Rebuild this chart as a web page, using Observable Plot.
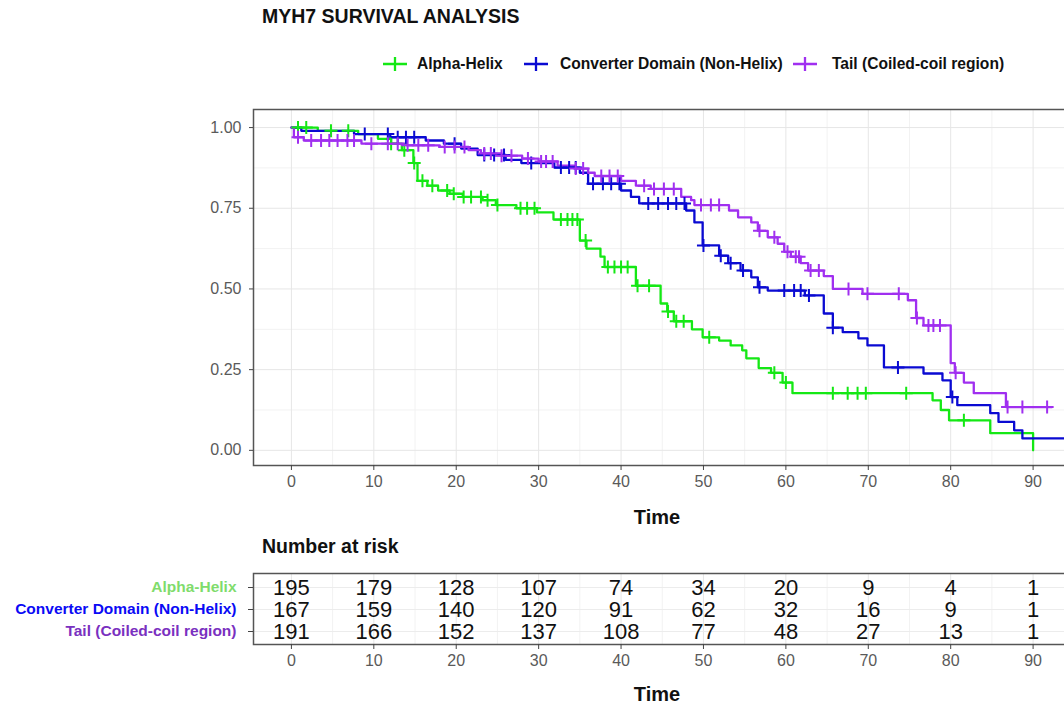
<!DOCTYPE html>
<html><head><meta charset="utf-8">
<script src="https://cdn.jsdelivr.net/npm/d3@7"></script>
<script src="https://cdn.jsdelivr.net/npm/@observablehq/plot@0.6"></script>
<style>
html,body{margin:0;padding:0;background:#fff;overflow:hidden;width:1064px;height:705px;}
#root{position:relative;width:1064px;height:705px;overflow:hidden;font-family:"Liberation Sans",Arial,sans-serif;}
#root svg{max-width:none !important;}
.abs{position:absolute;white-space:nowrap;line-height:1;}
</style></head><body><div id="root"></div>
<script>
const groups = ["Alpha-Helix", "Converter Domain (Non-Helix)", "Tail (Coiled-coil region)"];
const lineColors = ["#14e814", "#0a0ad2", "#a02ff0"];
const labelColors = ["#7fdc6c", "#0a0af5", "#7a30c0"];

const alphaTime = [0, 3.2, 8.1, 10.5, 12.1, 13.4, 14.8, 15.3, 16.5, 17.8, 19.2, 20.8, 23.2, 24.8, 27.3, 29.8, 31.8, 35.0, 35.8, 37.5, 38.0, 41.8, 44.8, 45.6, 46.4, 48.6, 49.9, 51.9, 53.3, 54.7, 55.2, 56.7, 58.2, 59.6, 60.8, 77.8, 78.8, 79.8, 84.8, 90.0];
const alphaSurv = [1.0, 0.99, 0.98, 0.965, 0.95, 0.93, 0.89, 0.835, 0.82, 0.805, 0.795, 0.785, 0.775, 0.76, 0.75, 0.737, 0.715, 0.65, 0.625, 0.60, 0.568, 0.51, 0.455, 0.43, 0.40, 0.375, 0.35, 0.34, 0.325, 0.31, 0.285, 0.255, 0.24, 0.21, 0.177, 0.155, 0.125, 0.093, 0.053, 0.0];
const alphaCensor = [0.8, 1.8, 4.8, 6.9, 12.1, 13.7, 14.9, 15.9, 17.1, 18.9, 19.7, 20.9, 21.8, 23.0, 23.8, 25.0, 27.8, 28.6, 29.5, 32.7, 33.5, 34.1, 34.7, 35.7, 38.4, 39.2, 40.0, 40.8, 42.0, 43.4, 45.7, 46.7, 47.6, 50.7, 58.6, 60.0, 65.7, 67.5, 68.7, 69.7, 74.6, 81.6];

const convTime = [0, 1.2, 7.6, 12.0, 16.3, 18.5, 20.6, 22.6, 26.0, 27.9, 31.9, 35.0, 36.0, 40.0, 41.2, 42.2, 47.9, 48.9, 49.9, 51.9, 53.0, 54.5, 55.8, 56.6, 57.8, 62.3, 64.6, 65.7, 66.9, 68.8, 69.9, 71.9, 76.7, 79.0, 80.0, 80.8, 84.8, 85.8, 87.7, 88.7, 95];
const convSurv = [1.0, 0.99, 0.98, 0.97, 0.96, 0.95, 0.935, 0.915, 0.90, 0.89, 0.876, 0.86, 0.826, 0.805, 0.785, 0.765, 0.743, 0.706, 0.635, 0.603, 0.58, 0.557, 0.536, 0.505, 0.495, 0.48, 0.424, 0.38, 0.366, 0.347, 0.325, 0.257, 0.238, 0.217, 0.165, 0.14, 0.115, 0.088, 0.062, 0.037, 0.037];
const convCensor = [8.9, 11.7, 12.9, 13.9, 14.9, 19.8, 23.4, 24.6, 25.8, 29.1, 32.7, 33.7, 34.5, 36.6, 37.8, 38.8, 39.8, 43.3, 44.5, 45.7, 46.7, 47.7, 50.0, 52.1, 53.3, 54.8, 56.8, 59.8, 61.0, 61.8, 62.8, 65.7, 73.6, 80.2];

const tailTime = [0, 0.3, 1.5, 8.5, 14.0, 18.0, 21.5, 23.0, 25.5, 28.0, 30.0, 32.3, 34.3, 36.0, 36.8, 40.0, 41.8, 43.6, 47.3, 48.5, 48.9, 53.1, 54.2, 55.8, 56.6, 57.8, 59.0, 59.8, 60.6, 61.8, 62.7, 64.6, 65.7, 69.3, 74.8, 75.8, 76.7, 80.0, 80.5, 81.6, 82.8, 86.7, 92.3];
const tailSurv = [1.0, 0.97, 0.96, 0.95, 0.945, 0.94, 0.93, 0.92, 0.913, 0.904, 0.895, 0.882, 0.873, 0.86, 0.85, 0.835, 0.82, 0.81, 0.785, 0.775, 0.76, 0.743, 0.722, 0.706, 0.68, 0.66, 0.64, 0.615, 0.60, 0.58, 0.557, 0.54, 0.50, 0.485, 0.465, 0.41, 0.387, 0.27, 0.24, 0.21, 0.177, 0.134, 0.134];
const tailCensor = [0.8, 2.4, 3.6, 4.6, 5.6, 6.8, 7.6, 9.7, 11.7, 12.9, 14.1, 15.4, 16.6, 18.6, 19.8, 21.0, 23.4, 24.2, 25.5, 26.7, 28.7, 30.3, 30.9, 31.7, 34.5, 35.4, 37.6, 38.6, 39.6, 42.8, 44.0, 45.2, 46.4, 49.7, 50.9, 51.9, 56.8, 58.6, 60.2, 61.2, 61.6, 63.0, 64.0, 67.6, 69.9, 73.7, 75.9, 77.3, 77.9, 78.7, 80.6, 86.9, 88.7, 91.7];

const riskTimes = [0, 10, 20, 30, 40, 50, 60, 70, 80, 90];
const riskAlpha = [195, 179, 128, 107, 74, 34, 20, 9, 4, 1];
const riskConv = [167, 159, 140, 120, 91, 62, 32, 16, 9, 1];
const riskTail = [191, 166, 152, 137, 108, 77, 48, 27, 13, 1];

const xTicks = [0, 10, 20, 30, 40, 50, 60, 70, 80, 90];
const yTicks = [0, 0.25, 0.5, 0.75, 1];

// ---- build tables
const series = [
  {g: groups[0], c: lineColors[0], t: alphaTime, s: alphaSurv, cen: alphaCensor},
  {g: groups[1], c: lineColors[1], t: convTime, s: convSurv, cen: convCensor},
  {g: groups[2], c: lineColors[2], t: tailTime, s: tailSurv, cen: tailCensor}
];
const stepAt = (ts, ss, t) => { let v = ss[0]; for (let i = 0; i < ts.length; i++) if (ts[i] <= t) v = ss[i]; return v; };
const curveRows = series.flatMap(S => S.t.map((t, i) => ({group: S.g, color: S.c, time: t, surv: S.s[i]})));
const censorRows = series.flatMap(S => S.cen.map(t => ({group: S.g, color: S.c, time: t, surv: stepAt(S.t, S.s, t)})));
const riskRows = [riskAlpha, riskConv, riskTail].flatMap((arr, k) => arr.map((n, i) => ({group: groups[k], time: riskTimes[i], n})));

const plusSymbol = {draw(ctx, size) { const r = Math.sqrt(size / Math.PI); ctx.moveTo(-r, 0); ctx.lineTo(r, 0); ctx.moveTo(0, -r); ctx.lineTo(0, r); }};

const W = 1100;
const xDomain = [-4.6, 96.6];
const root = document.getElementById("root");

const topPlot = Plot.plot({
  width: W, height: 530,
  marginLeft: 253, marginRight: W - 1087, marginTop: 109, marginBottom: 65,
  x: {domain: xDomain},
  y: {domain: [-0.047, 1.056]},
  color: {type: "identity"},
  style: {fontFamily: "Liberation Sans, Arial, sans-serif", fontSize: "16px", background: "white", maxWidth: "none"},
  marks: [
    Plot.gridX(d3.range(5, 96, 10), {stroke: "#f2f2f2", strokeOpacity: 1}),
    Plot.gridY(d3.range(0.125, 1.01, 0.25), {stroke: "#f2f2f2", strokeOpacity: 1}),
    Plot.gridX(xTicks, {stroke: "#e6e6e6", strokeOpacity: 1}),
    Plot.gridY(yTicks, {stroke: "#e6e6e6", strokeOpacity: 1}),
    Plot.line(curveRows, {x: "time", y: "surv", z: "group", stroke: "color", curve: "step-after", strokeWidth: 2.3}),
    Plot.dot(censorRows, {x: "time", y: "surv", stroke: "color", symbol: plusSymbol, r: 6.5, strokeWidth: 2, fill: "none"}),
    Plot.frame({stroke: "#555", strokeWidth: 1.5}),
    Plot.axisX(xTicks, {tickSize: 5, tickPadding: 5, label: null, stroke: "#444", fill: "#5a5a5a", fontSize: 16}),
    Plot.axisY(yTicks, {tickFormat: d3.format(".2f"), tickSize: 4, tickPadding: 8, label: null, stroke: "#444", fill: "#5a5a5a", fontSize: 16})
  ]
});
topPlot.style.position = "absolute"; topPlot.style.left = "0px"; topPlot.style.top = "0px"; topPlot.style.maxWidth = "none";
root.appendChild(topPlot);

const tTop = 540, tH = 165;
const tablePlot = Plot.plot({
  width: W, height: tH,
  marginLeft: 253, marginRight: W - 1087, marginTop: 573 - tTop, marginBottom: tTop + tH - 644,
  x: {domain: xDomain},
  y: {type: "point", domain: groups, padding: 0.58},
  color: {type: "identity"},
  style: {fontFamily: "Liberation Sans, Arial, sans-serif", fontSize: "16px", background: "transparent", maxWidth: "none"},
  marks: [
    Plot.gridX(d3.range(5, 96, 10), {stroke: "#f2f2f2", strokeOpacity: 1}),
    Plot.gridX(xTicks, {stroke: "#e6e6e6", strokeOpacity: 1}),
    Plot.gridY(groups, {stroke: "#ececec", strokeOpacity: 1}),
    Plot.text(riskRows, {x: "time", y: "group", text: "n", fontSize: 22, fill: "#111"}),
    Plot.frame({stroke: "#555", strokeWidth: 1.5}),
    Plot.axisX(xTicks, {tickSize: 5, tickPadding: 5, label: null, stroke: "#444", fill: "#5a5a5a", fontSize: 16}),
    Plot.axisY(groups, {tickSize: 5, tickPadding: 12, label: null, stroke: "#444", fill: d => labelColors[groups.indexOf(d)], fontSize: 15.5, fontWeight: "bold"})
  ]
});
tablePlot.style.position = "absolute"; tablePlot.style.left = "0px"; tablePlot.style.top = tTop + "px"; tablePlot.style.maxWidth = "none";
root.appendChild(tablePlot);

// ---- texts
function addText(txt, left, top, css) {
  const d = document.createElement("div");
  d.className = "abs"; d.textContent = txt;
  d.style.left = left + "px"; d.style.top = top + "px";
  Object.assign(d.style, css);
  root.appendChild(d);
  return d;
}
addText("MYH7 SURVIVAL ANALYSIS", 262, 7, {fontSize: "19.5px", fontWeight: "bold", color: "#111"});
addText("Number at risk", 262, 537, {fontSize: "19.5px", fontWeight: "bold", color: "#111"});
addText("Time", 657, 507, {fontSize: "20px", fontWeight: "bold", color: "#111", transform: "translateX(-50%)"});
addText("Time", 657, 684, {fontSize: "20px", fontWeight: "bold", color: "#111", transform: "translateX(-50%)"});

// legend
const legendPos = [[382, 417], [523, 560], [792, 832]];
groups.forEach((g, i) => {
  const ns = "http://www.w3.org/2000/svg";
  const svg = document.createElementNS(ns, "svg");
  svg.setAttribute("width", 26); svg.setAttribute("height", 16);
  svg.style.position = "absolute"; svg.style.left = legendPos[i][0] + "px"; svg.style.top = "56px";
  svg.innerHTML = `<path d="M1,8H25M13,1V15" stroke="${lineColors[i]}" stroke-width="2.3" fill="none"/>`;
  root.appendChild(svg);
  addText(g, legendPos[i][1], 55.5, {fontSize: "15.6px", fontWeight: "bold", color: "#111"});
});
</script></body></html>
